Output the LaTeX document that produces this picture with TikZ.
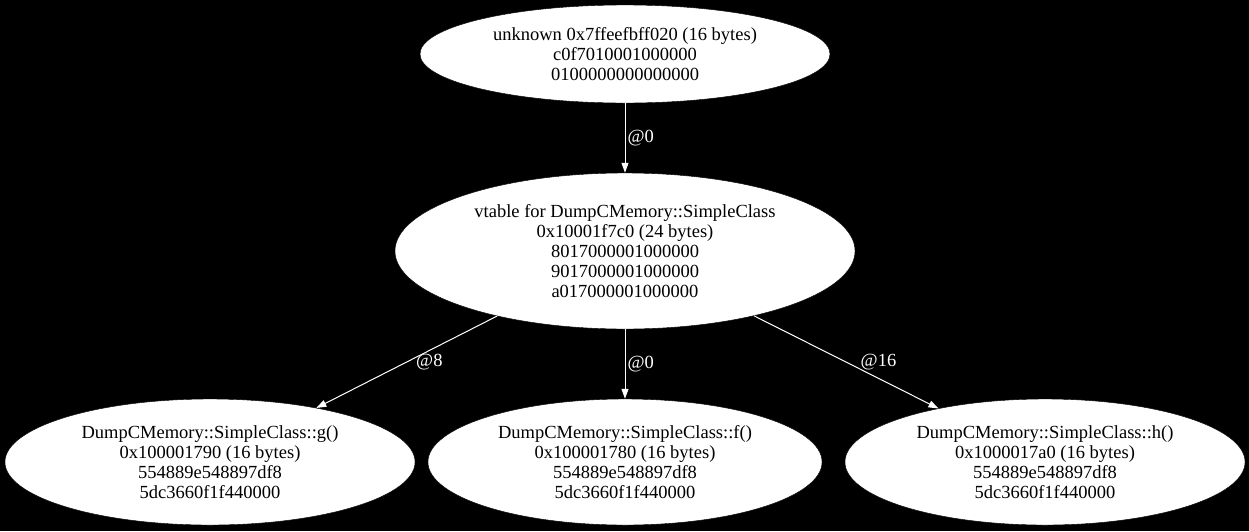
\documentclass[tikz,border=0pt]{standalone}
\usepackage{fontspec}
\setmainfont{Liberation Serif}
\usetikzlibrary{shapes.geometric,arrows.meta}
\begin{document}
\begin{tikzpicture}[x=1pt,y=-1pt,
  mem/.style={ellipse,fill=white,draw=black,inner sep=0pt,align=center,font=\fontsize{18.5}{20}\selectfont,text=black},
  conn/.style={draw=white,line width=1pt,-{Triangle[length=10pt,width=7pt]}},
  lbl/.style={text=white,font=\fontsize{18.5}{20}\selectfont,inner sep=2pt,anchor=west}]
\fill[black] (0,0) rectangle (1249,531);
\useasboundingbox (0,0) rectangle (1249,531);
\node[mem,minimum width=410pt,minimum height=98pt] (top) at (625,54) {unknown 0x7ffeefbff020 (16 bytes)\\c0f7010001000000\\0100000000000000};
\node[mem,minimum width=460pt,minimum height=156pt] (vt) at (625,251) {vtable for DumpCMemory::SimpleClass\\0x10001f7c0 (24 bytes)\\8017000001000000\\9017000001000000\\a017000001000000};
\node[mem,minimum width=410pt,minimum height=126pt] (g) at (210,462) {DumpCMemory::SimpleClass::g()\\0x100001790 (16 bytes)\\554889e548897df8\\5dc3660f1f440000};
\node[mem,minimum width=394pt,minimum height=126pt] (f) at (625,462) {DumpCMemory::SimpleClass::f()\\0x100001780 (16 bytes)\\554889e548897df8\\5dc3660f1f440000};
\node[mem,minimum width=400pt,minimum height=126pt] (h) at (1045,462) {DumpCMemory::SimpleClass::h()\\0x1000017a0 (16 bytes)\\554889e548897df8\\5dc3660f1f440000};
\draw[conn] (top) -- node[lbl,pos=0.5]{@0} (vt);
\draw[conn] (vt) -- node[lbl,pos=0.5,xshift=7pt]{@8} (g);
\draw[conn] (vt) -- node[lbl,pos=0.5]{@0} (f);
\draw[conn] (vt) -- node[lbl,pos=0.5,xshift=12pt]{@16} (h);
\end{tikzpicture}
\end{document}
